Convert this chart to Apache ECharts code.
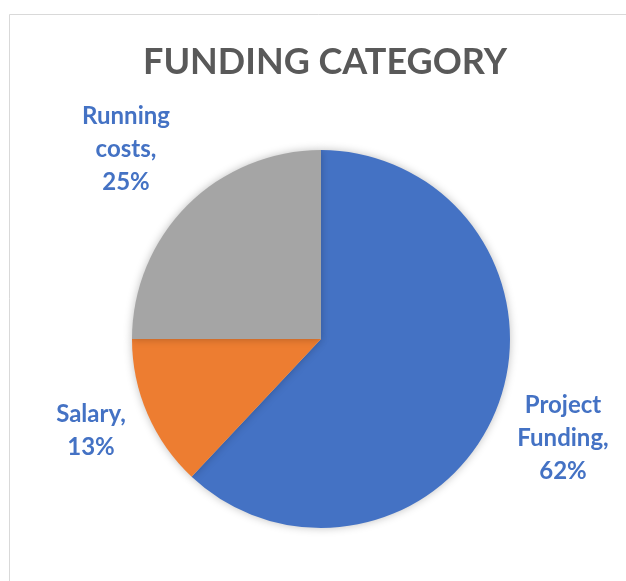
<!DOCTYPE html>
<html>
<head>
<meta charset="utf-8">
<script src="https://cdn.jsdelivr.net/npm/echarts@6/dist/echarts.min.js"></script>
<style>
  html, body { margin: 0; padding: 0; background: #fff; }
  #chart { width: 626px; height: 581px; }
</style>
</head>
<body>
<div id="chart"></div>
<script>
// funding category shares
const categories = ['Project Funding', 'Salary', 'Running costs']
const shares = [62, 13, 25]
const colors = ['#4472C4', '#ED7D31', '#A5A5A5']

// label anchor per slice (centre of label block)
const labelSpots = [
  { x: 563, y: 438 },
  { x: 91, y: 431 },
  { x: 126, y: 149 }
]

const chart = echarts.init(document.getElementById('chart'))
const option = {
  backgroundColor: '#fff',
  title: {
    text: 'FUNDING CATEGORY',
    left: 138,
    top: 39,
    textStyle: {
      fontFamily: 'Lato',
      fontWeight: 'bold',
      fontSize: 36,
      color: '#595959'
    }
  },
  graphic: [{
    type: 'rect',
    shape: { x: 9.5, y: 14.5, width: 800, height: 800 },
    style: { fill: 'none', stroke: '#D9D9D9', lineWidth: 1 },
    silent: true
  }],
  series: [{
    type: 'pie',
    center: [321, 339],
    radius: 189,
    startAngle: 90,
    clockwise: true,
    animation: false,
    itemStyle: {
      shadowBlur: 8,
      shadowColor: 'rgba(0,0,0,0.25)'
    },
    label: {
      show: true,
      position: 'outside',
      overflow: 'none',
      formatter: p => {
        const name = p.name.replace(' ', '\n')
        return name + ',\n' + p.value + '%'
      },
      fontFamily: 'Lato',
      fontWeight: 'bold',
      fontSize: 24,
      lineHeight: 33,
      color: '#4472C4',
      align: 'center'
    },
    labelLine: { show: false },
    labelLayout: p => ({
      x: labelSpots[p.dataIndex].x,
      y: labelSpots[p.dataIndex].y,
      align: 'center',
      verticalAlign: 'middle'
    }),
    data: categories.map((c, i) => ({
      name: c,
      value: shares[i],
      itemStyle: { color: colors[i] }
    }))
  }]
}
chart.setOption(option)
</script>
</body>
</html>
